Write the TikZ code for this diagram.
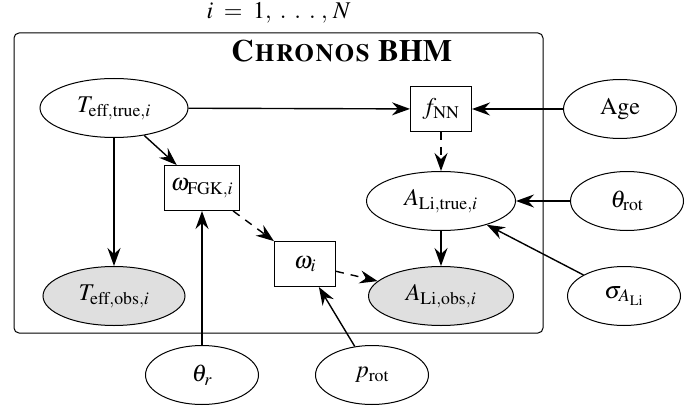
\documentclass[tikz,border=0pt]{standalone}
\usepackage[T1]{fontenc}
\usepackage{mathptmx}
\usetikzlibrary{shapes.geometric,arrows.meta}

\tikzset{every picture/.style={line width=1pt}}
\tikzset{
  var/.style={ellipse,draw,inner sep=0pt,minimum width=113pt,minimum height=59pt},
  obs/.style={var,fill=gray!25},
  det/.style={rectangle,draw,inner xsep=6pt,minimum width=61pt,minimum height=45pt},
  edge/.style={-{Stealth[length=18pt,width=13pt,inset=6pt]},line width=1.4pt},
  dedge/.style={edge,dash pattern={on 8pt off 7pt}}
}

\begin{document}
\begin{tikzpicture}[x=1pt,y=1pt,yscale=-1,xscale=1,font=\fontsize{24}{29}\selectfont]
  \useasboundingbox (0,0) rectangle (700,414);

  %Plate
  \draw [rounded corners=5pt] (14,33) rectangle (543,333);
  % Text Node
  \node [anchor=base west,inner sep=0pt] (idx) at (206,19) {$i\;=\;1,\;.\;\,.\;\,.\;,\,N$};
  % Text Node
  \node [anchor=base west,inner sep=0pt,font=\fontsize{31}{37}\selectfont] (plate) at (230,62) {\textbf{\textsc{Chronos} BHM}};

  % Nodes inside the plate
  \node [var,minimum width=148pt] (Ttrue) at (114,108) {$T_{\mathrm{eff,true},i}$};
  \node [det] (fNN) at (441,109) {$f_{\mathrm{NN}}$};
  \node [var,minimum width=149pt] (Atrue) at (441,201) {$A_{\mathrm{Li,true},i}$};
  \node [det] (wFGK) at (202,188) {$\omega_{\mathrm{FGK},i}$};
  \node [det] (wi) at (305,264) {$\omega_i$};
  \node [obs,minimum width=142pt] (Tobs) at (114,296) {$T_{\mathrm{eff,obs},i}$};
  \node [obs,minimum width=145pt] (Aobs) at (441,296) {$A_{\mathrm{Li,obs},i}$};

  % Nodes outside the plate
  \node [var] (age) at (620,109) {Age};
  \node [var] (throt) at (627,201) {$\theta_{\mathrm{rot}}$};
  \node [var] (sig) at (624,296) {$\sigma_{A_{\mathrm{Li}}}$};
  \node [var] (thr) at (202,375) {$\theta_r$};
  \node [var] (prot) at (372,375) {$p_{\mathrm{rot}}$};

  %Straight Lines
  \draw [edge] (Ttrue) -- (fNN);
  \draw [edge] (age) -- (fNN);
  \draw [dedge] (fNN) -- (Atrue);
  \draw [edge] (throt) -- (Atrue);
  \draw [edge] (sig) -- (Atrue);
  \draw [edge] (Atrue) -- (Aobs);
  \draw [edge] (Ttrue) -- (Tobs);
  \draw [edge] (Ttrue) -- (wFGK);
  \draw [edge] (thr) -- (wFGK);
  \draw [dedge] (wFGK) -- (wi);
  \draw [edge] (prot) -- (wi);
  \draw [dedge] (wi) -- (Aobs);
\end{tikzpicture}
\end{document}
